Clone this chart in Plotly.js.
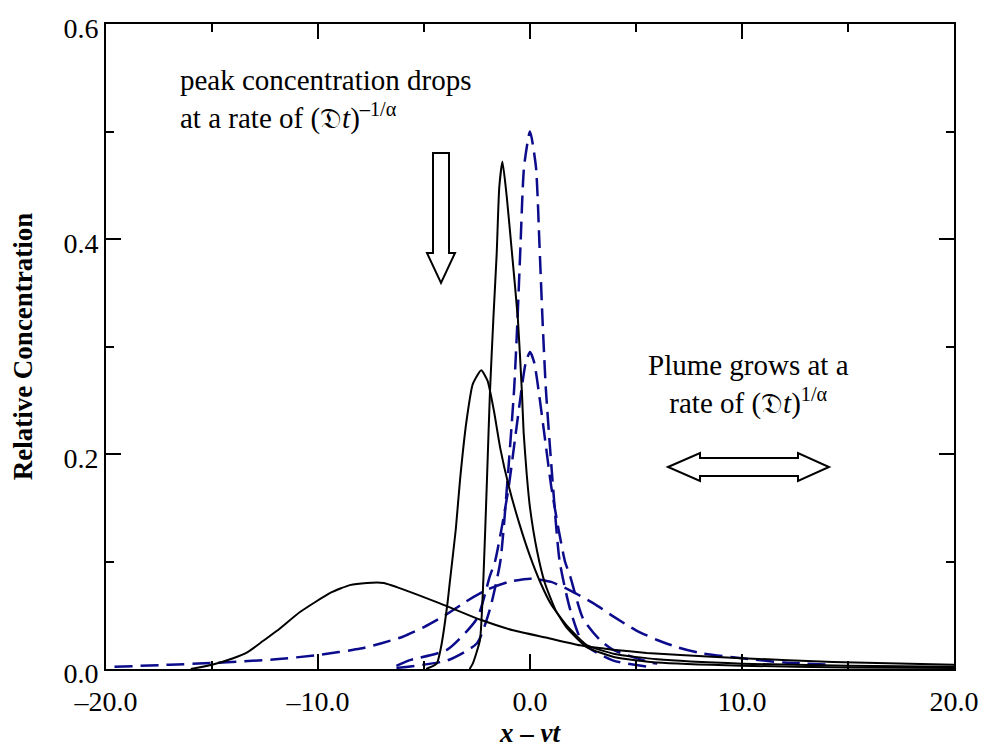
<!DOCTYPE html>
<html>
<head>
<meta charset="utf-8">
<script src="https://cdn.plot.ly/plotly-3.0.1.min.js"></script>
<style>
  html, body { margin: 0; padding: 0; background: #ffffff; }
  #chart { width: 986px; height: 755px; }
</style>
</head>
<body>
<div id="chart"></div>
<script>
// ---- Data ----
// Blue dashed (symmetric) curves
var blueNarrowX = [-6.3, -3.9, -2.5, -1.9, -1.4, -1.06, -0.75, -0.59, -0.45, -0.28, 0, 0.28, 0.45, 0.59, 0.75, 1.06, 1.4, 1.9, 2.5, 3.9, 5.6];
var blueNarrowY = [0.001, 0.008, 0.024, 0.055, 0.10, 0.176, 0.26, 0.325, 0.393, 0.467, 0.50, 0.467, 0.393, 0.325, 0.26, 0.176, 0.10, 0.055, 0.024, 0.008, 0.002];

var blueMidX = [-6.3, -5.7, -3.9, -2.5, -1.9, -1.65, -1.3, -1.0, -0.7, -0.42, -0.2, 0, 0.2, 0.42, 0.7, 1.0, 1.3, 1.65, 1.9, 2.5, 3.3, 3.9, 5.7, 6.0];
var blueMidY = [0.003, 0.008, 0.018, 0.047, 0.086, 0.10, 0.135, 0.17, 0.215, 0.257, 0.285, 0.295, 0.285, 0.257, 0.215, 0.17, 0.135, 0.10, 0.086, 0.047, 0.027, 0.018, 0.006, 0.005];

var blueWideX = [-19.6, -17, -15, -12, -10, -8, -7, -6, -5, -4, -3, -2, -1, 0, 1, 2, 3, 4, 5, 6, 7, 8, 10, 12, 14.3];
var blueWideY = [0.002, 0.004, 0.0056, 0.009, 0.013, 0.019, 0.024, 0.030, 0.039, 0.050, 0.063, 0.074, 0.081, 0.084, 0.081, 0.072, 0.061, 0.048, 0.036, 0.027, 0.020, 0.015, 0.010, 0.006, 0.004];

// Black solid (skewed) curves
var blackNarrowX = [-2.85, -2.7, -2.36, -2.2, -2.03, -1.89, -1.73, -1.57, -1.45, -1.3, -1.1, -0.85, -0.57, -0.38, -0.3, -0.15, 0, 0.33, 0.7, 1.2, 1.75, 2.7, 4, 6, 10, 15, 20];
var blackNarrowY = [0.0, 0.005, 0.027, 0.083, 0.176, 0.257, 0.325, 0.387, 0.448, 0.472, 0.44, 0.387, 0.325, 0.257, 0.22, 0.18, 0.15, 0.11, 0.08, 0.055, 0.038, 0.02, 0.011, 0.006, 0.003, 0.0015, 0.001];

var blackMidX = [-4.9, -4.4, -4.2, -3.9, -3.77, -3.5, -3.3, -3.0, -2.7, -2.3, -2.0, -1.7, -1.4, -1.0, -0.5, 0, 0.5, 1.0, 1.75, 2.7, 4, 6, 10, 15, 20];
var blackMidY = [0.0, 0.005, 0.02, 0.06, 0.083, 0.13, 0.176, 0.23, 0.265, 0.278, 0.268, 0.24, 0.205, 0.17, 0.135, 0.105, 0.08, 0.06, 0.04, 0.022, 0.014, 0.009, 0.005, 0.003, 0.002];

var blackWideX = [-16, -15, -14, -13.3, -12.6, -11.9, -10.85, -9.4, -8.5, -7.7, -6.9, -5.7, -4.25, -2.36, -0.8, 0.8, 2.36, 3.9, 5.5, 7.1, 10, 14.3, 20];
var blackWideY = [0.0, 0.004, 0.01, 0.016, 0.026, 0.036, 0.053, 0.071, 0.078, 0.080, 0.080, 0.072, 0.061, 0.046, 0.036, 0.029, 0.022, 0.018, 0.015, 0.013, 0.010, 0.0065, 0.004];

var xTickVals = [-20, -10, 0, 10, 20];
var xTickText = ['\u201320.0', '\u201310.0', '0.0', '10.0', '20.0'];
var yTickVals = [0, 0.2, 0.4, 0.6];
var yTickText = ['0.0', '0.2', '0.4', '0.6'];

// ---- Drawing ----
var SERIF = '"Liberation Serif", "Times New Roman", "DejaVu Serif", serif';
var BLUE = '#0b0b8c';

function blueTrace(x, y) {
  return { x: x, y: y, type: 'scatter', mode: 'lines',
    line: { color: BLUE, width: 2.5, dash: '18px,8px', shape: 'spline', smoothing: 0.6 },
    hoverinfo: 'skip', showlegend: false };
}
function blackTrace(x, y) {
  return { x: x, y: y, type: 'scatter', mode: 'lines',
    line: { color: '#000000', width: 2, shape: 'spline', smoothing: 0.5 },
    hoverinfo: 'skip', showlegend: false };
}

var traces = [
  blueTrace(blueWideX, blueWideY),
  blueTrace(blueMidX, blueMidY),
  blueTrace(blueNarrowX, blueNarrowY),
  blackTrace(blackWideX, blackWideY),
  blackTrace(blackMidX, blackMidY),
  blackTrace(blackNarrowX, blackNarrowY)
];

// pixel -> data helpers for the annotation arrows (plot area 106..954, 24..669)
function dx(px) { return (px - 530) / 21.2; }
function dy(py) { return (669 - py) / 1075; }
function pathFromPixels(pts) {
  return 'M' + pts.map(function (p) { return dx(p[0]).toFixed(4) + ',' + dy(p[1]).toFixed(5); }).join(' L') + ' Z';
}

var downArrow = pathFromPixels([[433,153],[449,153],[449,253],[455,253],[441,283],[427,253],[433,253]]);
var dblArrow = pathFromPixels([[668,467],[700,453],[700,458],[798,458],[798,453],[829,467],[798,481],[798,476],[700,476],[700,481]]);

var layout = {
  width: 986, height: 755,
  margin: { l: 106, r: 32, t: 24, b: 86 },
  paper_bgcolor: '#ffffff', plot_bgcolor: '#ffffff',
  font: { family: SERIF, color: '#000000', size: 28 },
  xaxis: {
    range: [-20, 20], tickvals: xTickVals, ticktext: xTickText,
    ticks: 'inside', ticklen: 15, tickwidth: 2, tickcolor: '#000',
    minor: { ticks: 'inside', ticklen: 8, tickwidth: 2, dtick: 5, tick0: -15, tickcolor: '#000' },
    showline: true, linewidth: 2, linecolor: '#000', mirror: 'allticks',
    showgrid: false, zeroline: false,
    ticklabelstandoff: 6,
    tickfont: { family: SERIF, size: 28 },
    title: { text: '<b><i>x</i> \u2013 <i>vt</i></b>', font: { family: SERIF, size: 27 }, standoff: 8 }
  },
  yaxis: {
    range: [0, 0.6], tickvals: yTickVals, ticktext: yTickText,
    ticks: 'inside', ticklen: 15, tickwidth: 2, tickcolor: '#000',
    minor: { ticks: 'inside', ticklen: 8, tickwidth: 2, dtick: 0.1, tick0: 0.1, tickcolor: '#000' },
    showline: true, linewidth: 2, linecolor: '#000', mirror: 'allticks',
    showgrid: false, zeroline: false,
    ticklabelshift: 4,
    tickfont: { family: SERIF, size: 28 },
    title: { text: '<b>Relative Concentration</b>', font: { family: SERIF, size: 27 }, standoff: 23 }
  },
  shapes: [
    { type: 'path', xref: 'x', yref: 'y', path: downArrow, fillcolor: '#ffffff', line: { color: '#000', width: 2 } },
    { type: 'path', xref: 'x', yref: 'y', path: dblArrow, fillcolor: '#ffffff', line: { color: '#000', width: 2 } }
  ],
  annotations: [
    { xref: 'paper', yref: 'paper', x: (178 - 106) / 848, y: 1 - (100 - 24) / 645, xanchor: 'left', yanchor: 'middle', align: 'left',
      showarrow: false, font: { family: SERIF, size: 29, color: '#000' },
      text: 'peak concentration drops<br>at a rate of (\uD835\uDD07<i>t</i>)<sup>\u20131/\u03B1</sup>' },
    { xref: 'paper', yref: 'paper', x: (748 - 106) / 848, y: 1 - (385 - 24) / 645, xanchor: 'center', yanchor: 'middle', align: 'center',
      showarrow: false, font: { family: SERIF, size: 29, color: '#000' },
      text: 'Plume grows at a<br>rate of (\uD835\uDD07<i>t</i>)<sup>1/\u03B1</sup>' }
  ]
};

Plotly.newPlot('chart', traces, layout, { displayModeBar: false, staticPlot: true });
</script>
</body>
</html>
